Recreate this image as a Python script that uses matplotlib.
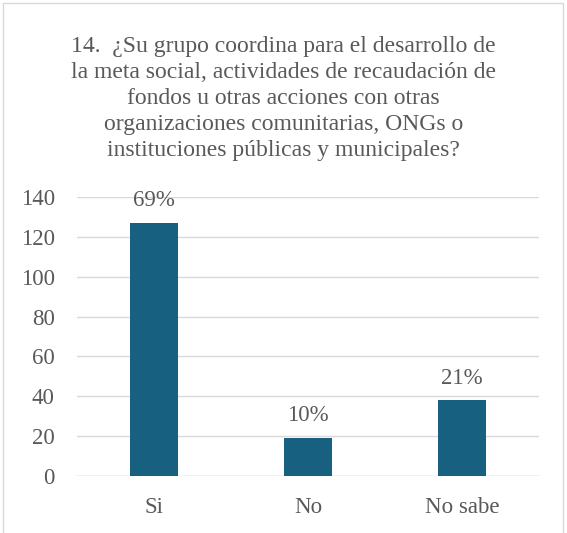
import matplotlib
matplotlib.use("Agg")
import matplotlib.pyplot as plt
from matplotlib.patches import Rectangle

categories = ["Si", "No", "No sabe"]
values = [127, 19, 38]
labels = ["69%", "10%", "21%"]
yticks = [0, 20, 40, 60, 80, 100, 120, 140]
title = ("14.  ¿Su grupo coordina para el desarrollo de\n"
         "la meta social, actividades de recaudación de\n"
         "fondos u otras acciones con otras\n"
         "organizaciones comunitarias, ONGs o\n"
         "instituciones públicas y municipales?")

plt.rcParams['font.family'] = ['Liberation Serif', 'DejaVu Serif']
gray = '#595959'
fs = 16.5

fig = plt.figure(figsize=(5.67, 5.33), dpi=100)
fig.patches.append(Rectangle((3/567, -0.01), 560/567, 1 - 3/533 + 0.01,
                             transform=fig.transFigure, fill=False,
                             edgecolor='#d9d9d9', linewidth=1))
ax = fig.add_axes([77/567, 57/533, 462/567, 279/533])
x = range(len(categories))
ax.bar(x, values, width=0.31, color='#17607F', zorder=3)
for xi, v, lab in zip(x, values, labels):
    ax.annotate(lab, (xi, v), xytext=(0, 12), textcoords='offset points',
                ha='center', va='baseline', fontsize=fs, color=gray)
ax.set_xlim(-0.5, 2.5)
ax.set_ylim(0, 140)
ax.set_yticks(yticks)
ax.set_xticks(list(x))
ax.set_xticklabels(categories)
ax.tick_params(axis='both', length=0, labelsize=fs, labelcolor=gray)
ax.tick_params(axis='y', pad=16)
ax.tick_params(axis='x', pad=15)
ax.yaxis.grid(True, color='#d9d9d9', linewidth=1, zorder=0)
for s in ax.spines.values():
    s.set_visible(False)
ax.axhline(0, color='#d9d9d9', linewidth=1, zorder=2)
fig.text(0.5, 1 - 36/533, title, ha='center', va='top', fontsize=17,
         color=gray, linespacing=1.32)
fig.savefig("out.png", dpi=100)
